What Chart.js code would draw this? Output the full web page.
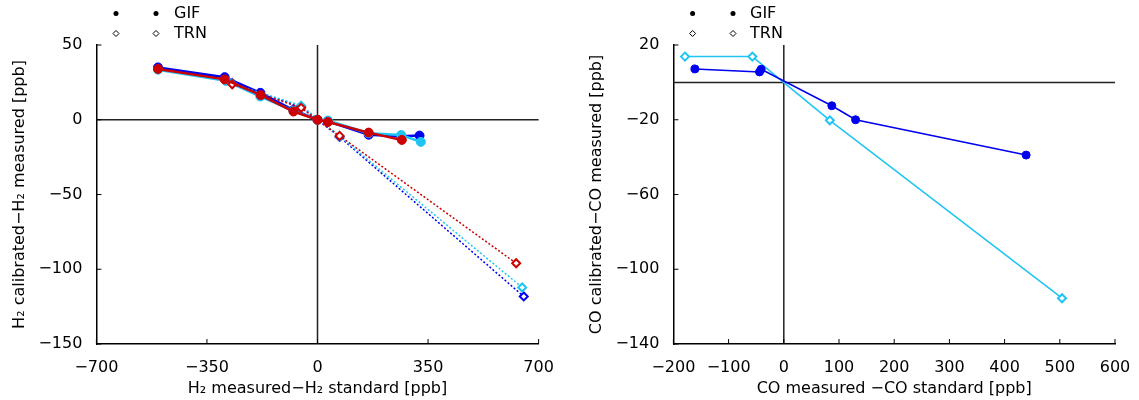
<!DOCTYPE html>
<html>
<head>
<meta charset="utf-8">
<script src="https://cdn.jsdelivr.net/npm/chart.js@4.4.1/dist/chart.umd.min.js"></script>
<style>
  body { margin: 0; background: #fff; }
  #wrap { position: relative; width: 1139px; height: 400px; }
  .box { position: absolute; top: 0; height: 400px; }
</style>
</head>
<body>
<div id="wrap">
  <div class="box" style="left:0;width:570px"><canvas id="h2Chart"></canvas></div>
  <div class="box" style="left:570px;width:569px"><canvas id="coChart"></canvas></div>
</div>
<script>
// ---------- H2 panel data [measured-standard, calibrated-measured] ----------
const h2GifBlue = [[-505, 35], [-294, 28.5], [-181, 18], [-76, 6.5], [0, 0], [33, -1], [162, -10], [265, -11], [323, -10.6]];
const h2GifCyan = [[-505, 33.5], [-290, 26], [-181, 15.5], [-76, 6], [0, 0], [33, -0.5], [162, -9], [265, -10.2], [327, -14.8]];
const h2GifRed = [[-505, 34], [-294, 27], [-180, 16.5], [-76, 5.5], [0, 0], [33, -1.5], [162, -8.6], [267, -13.5]];
const h2TrnBlue = [[-270, 24.5], [-52, 8.5], [70, -11.5], [653, -118.2]];
const h2TrnCyan = [[-270, 24], [-52, 9.5], [70, -11], [648, -112.2]];
const h2TrnRed = [[-270, 23.7], [-52, 8], [70, -10.8], [629, -96]];

// ---------- CO panel data ----------
const coGifBlue = [[-161, 7.2], [-44, 5.6], [-41, 7], [87, -12.5], [130, -20], [439, -38.9]];
const coTrnCyan = [[-179, 13.8], [-57, 13.8], [83.4, -20.3], [504, -115.5]];

// axis ranges [min, max, step]
const h2XRange = [-700, 700, 350];
const h2YRange = [-150, 50, 50];
const coXRange = [-200, 600, 100];
const coYRange = [-140, 20, 40];

const legendNames = ["GIF", "TRN"];

const BLUE = "#0000f0", CYAN = "#1ec4f4", RED = "#cc0000";
const FONT = { family: "DejaVu Sans", size: 16 };

const toXY = (arr) => arr.map(p => ({ x: p[0], y: p[1] }));
const minus = (v) => (v < 0 ? "\u2212" + Math.abs(v) : String(v));

// solid line + filled circles
function gif(data, color, order, width, r) {
  return {
    data: toXY(data), showLine: true, order,
    borderColor: color, backgroundColor: color, borderWidth: width,
    pointStyle: "circle", pointRadius: r, pointBorderWidth: 1, pointBorderColor: color,
    pointBackgroundColor: color
  };
}

// open diamonds, dotted or solid line
function trn(data, color, order, width, dash) {
  return {
    data: toXY(data), showLine: true, order,
    borderColor: color, backgroundColor: "#fff", borderWidth: width, borderDash: dash,
    pointStyle: "rectRot", pointRadius: 4, pointBorderWidth: 2, pointBorderColor: color,
    pointBackgroundColor: "#fff"
  };
}

// zero lines, inward ticks and the two-row legend
const frame = {
  id: "frame",
  beforeDatasetsDraw(chart) {
    const { ctx, chartArea: a, scales: { x, y } } = chart;
    ctx.save();
    ctx.strokeStyle = "#222";
    ctx.lineWidth = 1.5;
    const x0 = x.getPixelForValue(0), y0 = y.getPixelForValue(0);
    ctx.beginPath();
    ctx.moveTo(a.left, y0); ctx.lineTo(a.right, y0);
    ctx.moveTo(x0, a.top); ctx.lineTo(x0, a.bottom);
    ctx.stroke();
    ctx.strokeStyle = "#000";
    ctx.lineWidth = 1;
    ctx.beginPath();
    x.ticks.forEach(t => {
      const px = x.getPixelForValue(t.value);
      ctx.moveTo(px, a.bottom); ctx.lineTo(px, a.bottom - 5);
    });
    y.ticks.forEach(t => {
      const py = y.getPixelForValue(t.value);
      ctx.moveTo(a.left, py); ctx.lineTo(a.left + 5, py);
    });
    ctx.stroke();
    ctx.restore();
  },
  afterDraw(chart, args, opts) {
    const ctx = chart.ctx;
    const [s1, s2, tx] = opts.legendX;
    const rows = [13.5, 33.5];
    ctx.save();
    ctx.fillStyle = "#000";
    ctx.strokeStyle = "#000";
    ctx.lineWidth = 1;
    [s1, s2].forEach(sx => {
      ctx.beginPath();
      ctx.arc(sx, rows[0], 2.5, 0, Math.PI * 2);
      ctx.fill();
      ctx.beginPath();
      ctx.moveTo(sx, rows[1] - 3); ctx.lineTo(sx + 3, rows[1]);
      ctx.lineTo(sx, rows[1] + 3); ctx.lineTo(sx - 3, rows[1]);
      ctx.closePath();
      ctx.stroke();
    });
    ctx.font = "16px 'DejaVu Sans'";
    ctx.textBaseline = "middle";
    ctx.fillText(legendNames[0], tx, rows[0]);
    ctx.fillText(legendNames[1], tx, rows[1]);
    ctx.restore();
  }
};

function scales(xr, yr, yWidth, xTitle, yTitle, yTitlePad) {
  return {
    x: {
      type: "linear", min: xr[0], max: xr[1],
      ticks: { stepSize: xr[2], padding: 6, color: "#000", font: FONT, callback: minus, maxRotation: 0 },
      grid: { display: false },
      border: { display: true, color: "#000", width: 1.5 },
      title: { display: true, text: xTitle, color: "#000", font: FONT, padding: { top: 0, bottom: 2 } },
      afterFit: (s) => { s.height = 56; }
    },
    y: {
      type: "linear", min: yr[0], max: yr[1],
      ticks: { stepSize: yr[2], padding: 6, color: "#000", font: FONT, callback: minus },
      grid: { display: false },
      border: { display: true, color: "#000", width: 1.5 },
      title: { display: true, text: yTitle, color: "#000", font: FONT, padding: { top: yTitlePad, bottom: 0 } },
      afterFit: (s) => { s.width = yWidth; }
    }
  };
}

function baseOptions(padRight, sc, legendX) {
  return {
    responsive: true,
    maintainAspectRatio: false,
    animation: false,
    layout: { padding: { top: 45, right: padRight, left: 0, bottom: 0 } },
    scales: sc,
    plugins: { legend: { display: false }, tooltip: { enabled: false }, frame: { legendX } }
  };
}

// ---------- H2 CHART ----------
new Chart(document.getElementById("h2Chart"), {
  type: "scatter",
  data: {
    datasets: [
      gif(h2GifRed, RED, 1, 2.5, 4.5),
      trn(h2TrnRed, RED, 2, 1.5, [2, 2]),
      gif(h2GifCyan, CYAN, 3, 2.5, 4.5),
      trn(h2TrnCyan, CYAN, 4, 1.5, [2, 2]),
      gif(h2GifBlue, BLUE, 5, 2.5, 4.5),
      trn(h2TrnBlue, BLUE, 6, 1.5, [2, 2])
    ]
  },
  options: baseOptions(31.4,
    scales(h2XRange, h2YRange, 96.4, "H\u2082 measured\u2212H\u2082 standard [ppb]", "H\u2082 calibrated\u2212H\u2082 measured [ppb]", 10),
    [116, 156, 174]),
  plugins: [frame]
});

// ---------- CO CHART ----------
new Chart(document.getElementById("coChart"), {
  type: "scatter",
  data: {
    datasets: [
      gif(coGifBlue, BLUE, 1, 1.5, 4),
      trn(coTrnCyan, CYAN, 2, 1.5, [])
    ]
  },
  options: baseOptions(24,
    scales(coXRange, coYRange, 103.4, "CO measured \u2212CO standard [ppb]", "CO calibrated\u2212CO measured [ppb]", 17),
    [122.6, 163, 180]),
  plugins: [frame]
});
</script>
</body>
</html>
